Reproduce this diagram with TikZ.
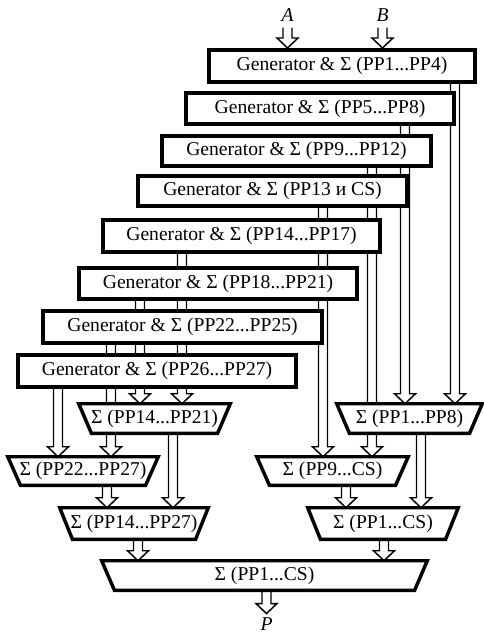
\documentclass[tikz,border=0pt]{standalone}
\usepackage{fontspec}
\setmainfont{Liberation Serif}
\usetikzlibrary{calc}
\pgfdeclarelayer{bg}
\pgfdeclarelayer{mid}
\pgfsetlayers{bg,mid,main}
\tikzset{
  txt/.style={font=\fontsize{14.7}{17}\selectfont},
  gen/.style={txt, draw, line width=3pt, fill=white, inner sep=0pt},
  sumnode/.style={txt, inner sep=0pt},
  trapline/.style={draw, line width=2.6pt, fill=white, line join=miter},
  busline/.style={draw, line width=1.1pt, fill=white, line join=miter},
  lbl/.style={txt, font=\fontsize{14.7}{17}\selectfont\itshape, inner sep=1pt}
}
\newcommand\bus[3]{%
  \coordinate (bx) at (#3,0);
  \begin{pgfonlayer}{bg}
  \path[busline] let \p1=(#1 -| bx), \p2=(#2 -| bx) in
    (\x1-3.375pt,\y1) -- (\x1-3.375pt,\y2+7.5pt) -- (\x1-7.875pt,\y2+7.5pt) --
    (\x2,\y2) -- (\x1+7.875pt,\y2+7.5pt) -- (\x1+3.375pt,\y2+7.5pt) -- (\x1+3.375pt,\y1);
  \end{pgfonlayer}}
\newcommand\trap[6]{%
  \node[sumnode, minimum width=#4pt, minimum height=#5pt] (#1) at (#2,#3) {#6};
  \begin{pgfonlayer}{mid}
  \path[trapline] (#1.north west) -- (#1.north east) -- ([xshift=-9.5pt]#1.south east)
    -- ([xshift=9.5pt]#1.south west) -- cycle;
  \end{pgfonlayer}}
\begin{document}
\begin{tikzpicture}[x=0.75pt,y=-0.75pt]
\useasboundingbox (0,0) rectangle (484,635);
% generators
\node[gen, minimum width=199.5pt, minimum height=24pt]    (g1) at (342,66)    {Generator \& Σ (PP1...PP4)};
\node[gen, minimum width=201pt,   minimum height=23.25pt] (g2) at (320,108.5) {Generator \& Σ (PP5...PP8)};
\node[gen, minimum width=201.75pt,minimum height=22.5pt]  (g3) at (296.5,151) {Generator \& Σ (PP9...PP12)};
\node[gen, minimum width=201.75pt,minimum height=22.5pt]  (g4) at (272.5,191) {Generator \& Σ (PP13 и CS)};
\node[gen, minimum width=207.75pt,minimum height=24pt]    (g5) at (241.5,236) {Generator \& Σ (PP14...PP17)};
\node[gen, minimum width=208.5pt, minimum height=23.25pt] (g6) at (218,283.5) {Generator \& Σ (PP18...PP21)};
\node[gen, minimum width=209.25pt,minimum height=24pt]    (g7) at (182.5,327) {Generator \& Σ (PP22...PP25)};
\node[gen, minimum width=208.5pt, minimum height=24pt]    (g8) at (157,371)   {Generator \& Σ (PP26...PP27)};
% summers
\trap{s1421}{154.5}{418.5}{113.25}{21.75}{Σ (PP14...PP21)}
\trap{s18}{409.5}{418.5}{108.75}{21.75}{Σ (PP1...PP8)}
\trap{s2227}{83}{471}{112.5}{21}{Σ (PP22...PP27)}
\trap{s9cs}{332.5}{471}{113.25}{21}{Σ (PP9...CS)}
\trap{s1427}{134}{523.5}{111}{23.25}{Σ (PP14...PP27)}
\trap{s1cs}{383}{523.5}{112.5}{23.25}{Σ (PP1...CS)}
\trap{sall}{264.5}{575.5}{243.75}{21.75}{Σ (PP1...CS)}
% labels
\node[lbl, anchor=base] (A) at (287.5,22) {A};
\node[lbl, anchor=base] (B) at (382.5,22) {B};
\node[lbl, anchor=base] (P) at (266.5,630) {P};
\coordinate (Aout) at ([yshift=-3pt]A.south);
\coordinate (Bout) at ([yshift=-3pt]B.south);
\coordinate (Pin) at ([yshift=1.5pt]P.north);
% buses
\bus{Aout}{g1.north}{287.5}
\bus{Bout}{g1.north}{382.5}
\bus{g1.south}{s18.north}{455}
\bus{g2.south}{s18.north}{405}
\bus{g3.south}{s9cs.north}{372}
\bus{g4.south}{s9cs.north}{323}
\bus{g5.south}{s1421.north}{182}
\bus{g6.south}{s1421.north}{140}
\bus{g7.south}{s2227.north}{111}
\bus{g8.south}{s2227.north}{58}
\bus{s2227.south}{s1427.north}{107}
\bus{s1421.south}{s1427.north}{173}
\bus{s9cs.south}{s1cs.north}{346}
\bus{s18.south}{s1cs.north}{421}
\bus{s1427.south}{sall.north}{138}
\bus{s1cs.south}{sall.north}{384}
\bus{sall.south}{Pin}{266.5}
\end{tikzpicture}
\end{document}
